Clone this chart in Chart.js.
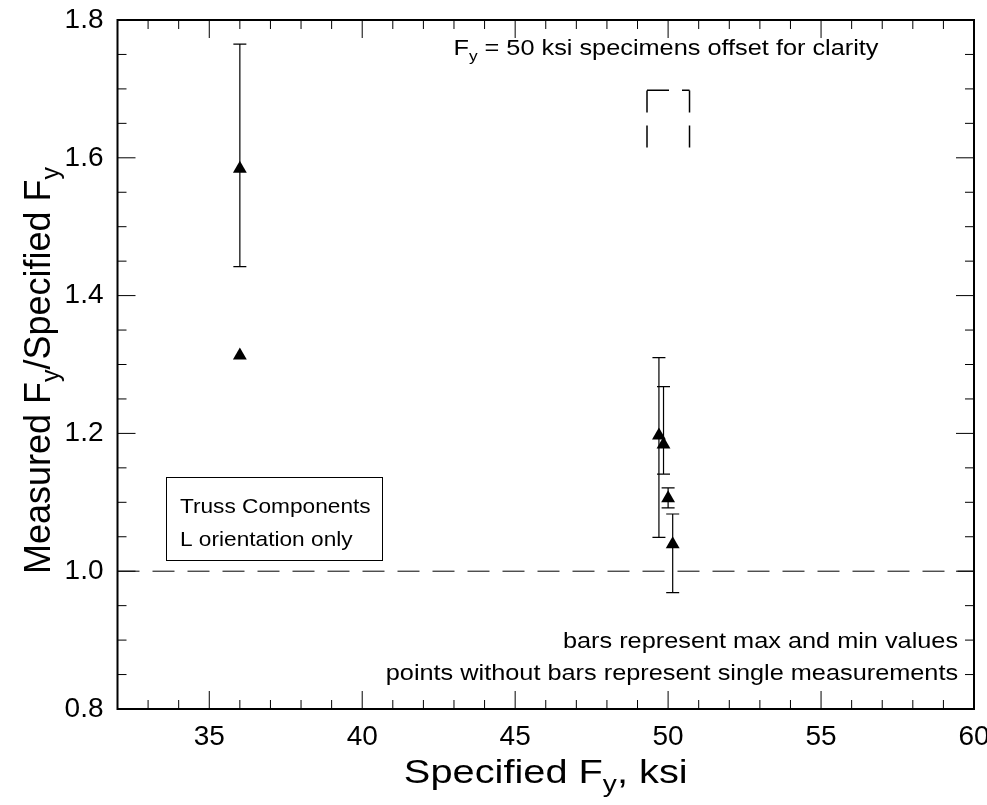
<!DOCTYPE html>
<html>
<head>
<meta charset="utf-8">
<script src="https://cdn.jsdelivr.net/npm/chart.js@4.4.1/dist/chart.umd.min.js"></script>
<style>
  html, body { margin: 0; padding: 0; background: #ffffff; }
  #wrap { position: relative; width: 987px; height: 805px; }
</style>
</head>
<body>
<div id="wrap"><canvas id="c" width="987" height="805"></canvas></div>
<script>
// ---- data ----
const pointX    = [36, 36, 49.7, 49.85, 50.0, 50.15];
const pointY    = [1.584, 1.313, 1.197, 1.184, 1.106, 1.039];
const barHigh   = [1.765, null, 1.310, 1.268, 1.121, 1.083];
const barLow    = [1.442, null, 1.049, 1.141, 1.092, 0.969];
const refLineX  = [32, 60];
const refLineY  = [1.0, 1.0];
const bracketX  = [49.31, 49.31, 50.70, 50.70];
const bracketY  = [1.615, 1.698, 1.698, 1.615];
const xMajorTicks = [35, 40, 45, 50, 55, 60];
const xMinorTicks = [33,34,36,37,38,39,41,42,43,44,46,47,48,49,51,52,53,54,56,57,58,59];
const yMajorTicks = [0.8, 1.0, 1.2, 1.4, 1.6, 1.8];
const yMinorTicks = [0.85,0.9,0.95,1.05,1.1,1.15,1.25,1.3,1.35,1.45,1.5,1.55,1.65,1.7,1.75];
const xRange = [32, 60];
const yRange = [0.8, 1.8];

const FONT = '"Liberation Sans", Arial, Helvetica, sans-serif';

// draw text with subscripts: parts = [[text, isSub], ...]; hs = horizontal stretch
function drawRich(ctx, parts, x, y, size, align, hs) {
  hs = hs || 1;
  const subSize = Math.round(size * 0.7);
  let total = 0;
  const widths = parts.map(p => {
    ctx.font = (p[1] ? subSize : size) + 'px ' + FONT;
    const w = ctx.measureText(p[0]).width;
    total += w;
    return w;
  });
  let sx = 0;
  if (align === 'center') sx = -total / 2;
  else if (align === 'right') sx = -total;
  ctx.save();
  ctx.translate(x, y);
  ctx.scale(hs, 1);
  ctx.textAlign = 'left';
  ctx.textBaseline = 'alphabetic';
  let cx = sx;
  parts.forEach((p, i) => {
    ctx.font = (p[1] ? subSize : size) + 'px ' + FONT;
    ctx.fillText(p[0], cx, p[1] ? size * 0.25 : 0);
    cx += widths[i];
  });
  ctx.restore();
}

const decorPlugin = {
  id: 'decor',
  beforeDatasetsDraw(chart) {
    const ctx = chart.ctx;
    const xs = chart.scales.x, ys = chart.scales.y;
    ctx.save();
    ctx.strokeStyle = '#000';
    ctx.lineWidth = 1.2;
    // error bars
    for (let i = 0; i < pointX.length; i++) {
      if (barHigh[i] == null) continue;
      const px = xs.getPixelForValue(pointX[i]);
      const pt = ys.getPixelForValue(barHigh[i]);
      const pb = ys.getPixelForValue(barLow[i]);
      ctx.beginPath();
      ctx.moveTo(px, pt); ctx.lineTo(px, pb);
      ctx.moveTo(px - 6.5, pt); ctx.lineTo(px + 6.5, pt);
      ctx.moveTo(px - 6.5, pb); ctx.lineTo(px + 6.5, pb);
      ctx.stroke();
    }
    ctx.restore();
  },
  afterDraw(chart) {
    const ctx = chart.ctx;
    const a = chart.chartArea;
    const xs = chart.scales.x, ys = chart.scales.y;
    ctx.save();
    ctx.strokeStyle = '#000';
    ctx.fillStyle = '#000';
    // inward ticks on all four sides
    ctx.lineWidth = 1;
    ctx.beginPath();
    const tick = (vals, len) => {
      vals.forEach(v => {
        const px = xs.getPixelForValue(v);
        ctx.moveTo(px, a.bottom); ctx.lineTo(px, a.bottom - len);
        ctx.moveTo(px, a.top); ctx.lineTo(px, a.top + len);
      });
    };
    const tickY = (vals, len) => {
      vals.forEach(v => {
        const py = ys.getPixelForValue(v);
        ctx.moveTo(a.left, py); ctx.lineTo(a.left + len, py);
        ctx.moveTo(a.right, py); ctx.lineTo(a.right - len, py);
      });
    };
    tick(xMajorTicks, 18); tick(xMinorTicks, 9);
    tickY(yMajorTicks, 18); tickY(yMinorTicks, 9);
    ctx.stroke();
    // frame
    ctx.lineWidth = 2;
    ctx.strokeRect(a.left, a.top, a.right - a.left, a.bottom - a.top);

    // annotation box
    ctx.lineWidth = 1;
    const bx0 = xs.getPixelForValue(33.585), bx1 = xs.getPixelForValue(40.65);
    const by0 = ys.getPixelForValue(1.137), by1 = ys.getPixelForValue(1.016);
    ctx.fillStyle = '#fff';
    ctx.fillRect(bx0, by0, bx1 - bx0, by1 - by0);
    ctx.strokeRect(Math.round(bx0) + 0.5, Math.round(by0) + 0.5, Math.round(bx1 - bx0), Math.round(by1 - by0));
    ctx.fillStyle = '#000';
    drawRich(ctx, [['Truss Components', false]], xs.getPixelForValue(34.04), ys.getPixelForValue(1.084), 21, 'left', 1.08);
    drawRich(ctx, [['L orientation only', false]], xs.getPixelForValue(34.04), ys.getPixelForValue(1.037), 21, 'left', 1.08);

    // notes
    drawRich(ctx, [['bars represent max and min values', false]], xs.getPixelForValue(59.48), ys.getPixelForValue(0.889), 22, 'right', 1.15);
    drawRich(ctx, [['points without bars represent single measurements', false]], xs.getPixelForValue(59.48), ys.getPixelForValue(0.842), 22, 'right', 1.15);
    drawRich(ctx, [['F', false], ['y', true], [' = 50 ksi specimens offset for clarity', false]], xs.getPixelForValue(49.93), ys.getPixelForValue(1.749), 22, 'center', 1.15);

    // axis titles
    drawRich(ctx, [['Specified F', false], ['y', true], [', ksi', false]], (a.left + a.right) / 2, 783, 34, 'center', 1.17);
    ctx.save();
    ctx.translate(50, (a.top + a.bottom) / 2 + 6);
    ctx.rotate(-Math.PI / 2);
    drawRich(ctx, [['Measured F', false], ['y', true], ['/Specified F', false], ['y', true]], 0, 0, 36, 'center', 1);
    ctx.restore();
    ctx.restore();
  }
};

const points = pointX.map((x, i) => ({ x: x, y: pointY[i] }));
const refLine = refLineX.map((x, i) => ({ x: x, y: refLineY[i] }));
// bracket drawn as three strokes, each starting its own dash pattern
const bracketSegs = [[0, 1], [1, 2], [3, 2]].map(s => s.map(i => ({ x: bracketX[i], y: bracketY[i] })));

const dashed = (data, w) => ({
  data: data,
  showLine: true,
  borderColor: '#000',
  borderWidth: w,
  borderDash: [22, 13],
  pointRadius: 0,
  fill: false
});

new Chart(document.getElementById('c'), {
  type: 'scatter',
  data: {
    datasets: [
      {
        label: 'Measured/Specified',
        data: points,
        pointStyle: 'triangle',
        pointRadius: 8,
        pointHoverRadius: 8,
        backgroundColor: '#000',
        borderColor: '#000',
        borderWidth: 0,
        showLine: false
      },
      Object.assign({ label: 'Fy = 1.0' }, dashed(refLine, 1)),
      Object.assign({ label: 'offset group a' }, dashed(bracketSegs[0], 1.5)),
      Object.assign({ label: 'offset group b' }, dashed(bracketSegs[1], 1.5)),
      Object.assign({ label: 'offset group c' }, dashed(bracketSegs[2], 1.5))
    ]
  },
  options: {
    responsive: false,
    animation: false,
    devicePixelRatio: 1,
    layout: { padding: { top: 20, right: 13, left: 0, bottom: 0 } },
    plugins: { legend: { display: false }, tooltip: { enabled: false } },
    scales: {
      x: {
        type: 'linear',
        min: xRange[0], max: xRange[1],
        grid: { display: false, drawTicks: false },
        border: { display: false },
        ticks: {
          padding: 11,
          color: '#000',
          font: { family: FONT, size: 28 },
          maxRotation: 0,
          callback: v => String(v)
        },
        afterBuildTicks: s => { s.ticks = xMajorTicks.map(v => ({ value: v })); },
        afterFit: s => { s.height = 96; s.paddingLeft = 0; s.paddingRight = 0; }
      },
      y: {
        type: 'linear',
        min: yRange[0], max: yRange[1],
        grid: { display: false, drawTicks: false },
        border: { display: false },
        ticks: {
          padding: 14,
          color: '#000',
          font: { family: FONT, size: 28 },
          callback: v => Number(v).toFixed(1)
        },
        afterBuildTicks: s => { s.ticks = yMajorTicks.map(v => ({ value: v })); },
        afterFit: s => { s.width = 117.5; s.paddingTop = 0; s.paddingBottom = 0; }
      }
    }
  },
  plugins: [decorPlugin]
});
</script>
</body>
</html>
